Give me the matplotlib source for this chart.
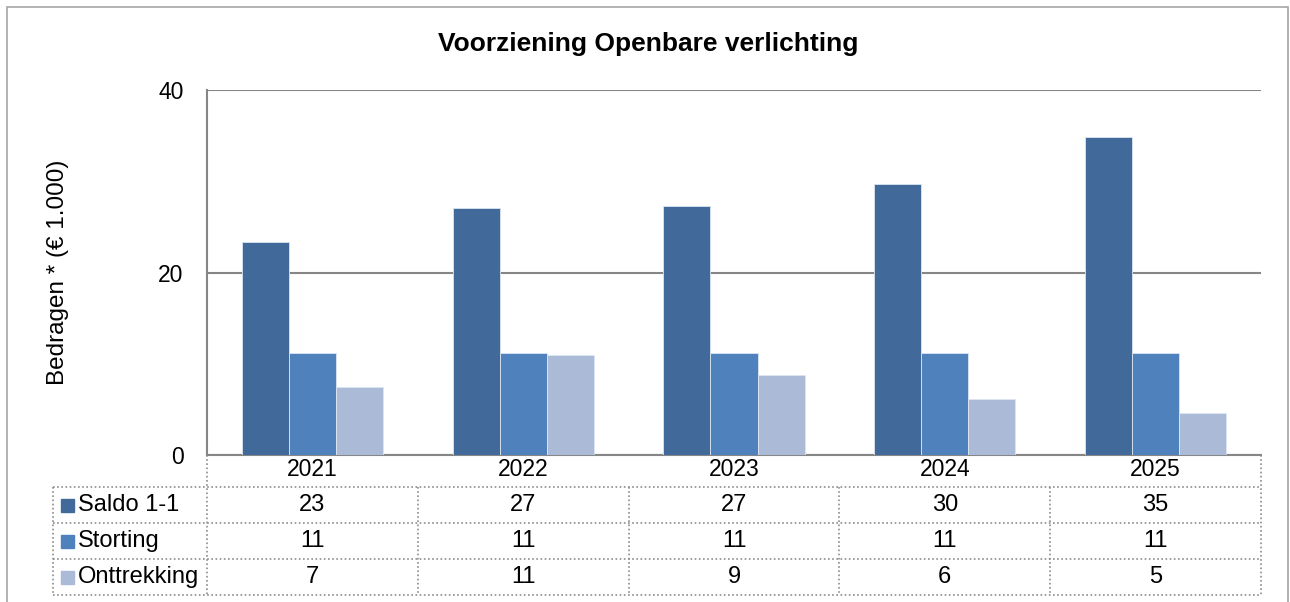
import matplotlib.pyplot as plt
import matplotlib.transforms as mtransforms
from matplotlib.lines import Line2D
from matplotlib.patches import Rectangle
import numpy as np

plt.rcParams["font.family"] = ["Liberation Sans", "DejaVu Sans"]

# ---- data ----
years = ["2021", "2022", "2023", "2024", "2025"]
series_names = ["Saldo 1-1", "Storting", "Onttrekking"]
saldo = [23.3, 27.1, 27.3, 29.7, 34.8]
storting = [11.2, 11.2, 11.2, 11.2, 11.2]
onttrekking = [7.5, 11.0, 8.8, 6.1, 4.6]
table_saldo = ["23", "27", "27", "30", "35"]
table_storting = ["11", "11", "11", "11", "11"]
table_onttrekking = ["7", "11", "9", "6", "5"]

colors = ["#41699A", "#4F81BD", "#AABAD7"]

W, H = 1290, 602
fig = plt.figure(figsize=(W / 100, H / 100), dpi=100)

# figure border
fig.add_artist(Rectangle((7 / W, -0.01), 1281 / W, (H - 7) / H + 0.01,
                         transform=fig.transFigure, fill=False,
                         edgecolor="#A6A6A6", lw=1.2))

left, right, top, bottom = 207, 1261, 90, 455
ax = fig.add_axes([left / W, 1 - bottom / H, (right - left) / W, (bottom - top) / H])

x = np.arange(len(years))
bw = 0.223
for i, vals in enumerate([saldo, storting, onttrekking]):
    ax.bar(x + (i - 1) * bw, vals, bw, color=colors[i], edgecolor="#DCE6F2",
           linewidth=0.6, zorder=3)

ax.set_xlim(-0.5, len(years) - 0.5)
ax.set_ylim(0, 40)
ax.set_yticks([0, 20, 40])
ax.yaxis.grid(True, color="#868686", lw=1.5, zorder=0)
ax.set_xticks(x)
ax.set_xticklabels(years)
ax.tick_params(axis="both", length=0, labelsize=16.5)
ax.tick_params(axis="y", pad=17)
ax.tick_params(axis="x", pad=2)
for s in ["top", "right"]:
    ax.spines[s].set_visible(False)
for s in ["left", "bottom"]:
    ax.spines[s].set_color("#868686")
    ax.spines[s].set_linewidth(1.5)

fig.text(648 / W, 1 - 44 / H, "Voorziening Openbare verlichting",
         ha="center", va="center", fontsize=19, fontweight="bold")
fig.text(58 / W, 1 - 272 / H, "Bedragen * (\u20ac 1.000)", rotation=90,
         ha="center", va="center", fontsize=17.5)

# ---- data table under the chart ----
tr = mtransforms.blended_transform_factory(ax.transData, fig.transFigure)
dot = dict(color="#8C8C8C", lw=1.2, linestyle=(0, (1, 1.5)), clip_on=False)

def fy(py):
    return 1 - py / H

row_lines = [487, 523, 559, 595]
x0 = 53 / W
for ry in row_lines:
    fig.add_artist(Line2D([x0, right / W], [fy(ry), fy(ry)],
                          transform=fig.transFigure, **dot))
fig.add_artist(Line2D([x0, x0], [fy(487), fy(595)], transform=fig.transFigure, **dot))
fig.add_artist(Line2D([left / W, left / W], [fy(455), fy(595)],
                      transform=fig.transFigure, **dot))
fig.add_artist(Line2D([right / W, right / W], [fy(455), fy(595)],
                      transform=fig.transFigure, **dot))
for b in np.arange(0.5, len(years) - 1, 1.0):
    ax.add_line(Line2D([b, b], [fy(487), fy(595)], transform=tr, **dot))

rows = [table_saldo, table_storting, table_onttrekking]
for r, (name, vals) in enumerate(zip(series_names, rows)):
    cy = (row_lines[r] + row_lines[r + 1]) / 2
    fig.add_artist(Rectangle((61 / W, fy(cy + 6.5)), 13 / W, 13 / H,
                             transform=fig.transFigure, color=colors[r]))
    fig.text(78 / W, fy(cy), name, ha="left", va="center", fontsize=17)
    for j, v in enumerate(vals):
        ax.text(x[j], fy(cy), v, transform=tr, ha="center", va="center",
                fontsize=17, clip_on=False)

fig.savefig("out.png", dpi=100)
